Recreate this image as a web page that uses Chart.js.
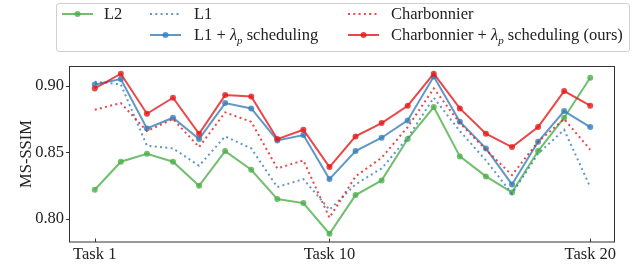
<!DOCTYPE html>
<html>
<head>
<meta charset="utf-8">
<script src="https://cdn.jsdelivr.net/npm/chart.js@4/dist/chart.umd.min.js"></script>
<style>
  html, body { margin: 0; padding: 0; background: #fff; }
  #wrap { position: relative; width: 635px; height: 266px; }
  #legend { position: absolute; left: 56px; top: 3px; width: 572px; height: 47px;
            border: 1px solid #d0d0d0; border-radius: 3px; background: rgba(255,255,255,0.8);
            font-family: 'Liberation Serif', serif; font-size: 16.5px; color: #222; }
  .item { position: absolute; height: 20px; }
  .h { position: absolute; top: 0; width: 31px; height: 20px; }
  .t { position: absolute; top: 0; line-height: 20px; white-space: nowrap; }
</style>
</head>
<body>
<div id="wrap">
  <canvas id="c" width="635" height="266"></canvas>
  <div id="legend"></div>
</div>
<script>
const tasks = [1,2,3,4,5,6,7,8,9,10,11,12,13,14,15,16,17,18,19,20];
const xTickValues = [1, 10, 20];
const xTickLabels = ['Task 1', 'Task 10', 'Task 20'];
const yTickValues = [0.80, 0.85, 0.90];
const yTickLabels = ['0.80', '0.85', '0.90'];

const l2 =            [0.822, 0.843, 0.849, 0.843, 0.825, 0.851, 0.837, 0.815, 0.812, 0.789, 0.818, 0.829, 0.860, 0.884, 0.847, 0.832, 0.820, 0.851, 0.876, 0.906];
const l1 =            [0.903, 0.901, 0.855, 0.853, 0.840, 0.862, 0.853, 0.824, 0.830, 0.807, 0.826, 0.838, 0.861, 0.891, 0.866, 0.844, 0.819, 0.849, 0.867, 0.824];
const l1Sched =       [0.901, 0.905, 0.868, 0.876, 0.860, 0.887, 0.883, 0.859, 0.863, 0.830, 0.851, 0.861, 0.874, 0.907, 0.873, 0.853, 0.826, 0.858, 0.881, 0.869];
const charb =         [0.882, 0.887, 0.866, 0.875, 0.854, 0.880, 0.873, 0.838, 0.844, 0.801, 0.832, 0.846, 0.869, 0.898, 0.872, 0.852, 0.833, 0.858, 0.875, 0.852];
const charbSched =    [0.898, 0.909, 0.879, 0.891, 0.864, 0.893, 0.892, 0.860, 0.867, 0.839, 0.862, 0.872, 0.885, 0.909, 0.883, 0.864, 0.854, 0.869, 0.896, 0.885];

const seriesNames = ['L2', 'L1', 'L1 + λ<sub>p</sub> scheduling', 'Charbonnier', 'Charbonnier + λ<sub>p</sub> scheduling (ours)'];
const GREEN = 'rgba(77,175,74,0.8)';
const BLUE = 'rgba(55,126,184,0.8)';
const RED = 'rgba(228,26,28,0.8)';

const specs = [
  { data: l2, color: GREEN, dotted: false },
  { data: l1, color: BLUE, dotted: true },
  { data: l1Sched, color: BLUE, dotted: false },
  { data: charb, color: RED, dotted: true },
  { data: charbSched, color: RED, dotted: false },
];

const datasets = specs.map((s, i) => ({
  label: seriesNames[i].replace(/<\/?sub>/g, ''),
  data: tasks.map((t, j) => ({ x: t, y: s.data[j] })),
  borderColor: s.color,
  backgroundColor: s.color,
  borderWidth: 2,
  borderDash: s.dotted ? [2, 3.3] : [],
  pointRadius: s.dotted ? 0 : 3,
  pointHoverRadius: 0,
  pointBorderWidth: 0,
  tension: 0,
  order: 4 - i,
}));

const framePlugin = {
  id: 'frame',
  afterDraw(chart) {
    const { ctx, chartArea: a } = chart;
    ctx.save();
    ctx.strokeStyle = '#333';
    ctx.lineWidth = 1;
    ctx.strokeRect(a.left - 0.5, a.top + 0.5, a.right - a.left, a.bottom - a.top - 0.5);
    ctx.beginPath();
    const xs = chart.scales.x, ys = chart.scales.y;
    xs.ticks.forEach(t => {
      const px = Math.round(xs.getPixelForValue(t.value)) + 0.5;
      ctx.moveTo(px, a.bottom); ctx.lineTo(px, a.bottom - 3.5);
    });
    ys.ticks.forEach(t => {
      const py = Math.round(ys.getPixelForValue(t.value)) + 0.5;
      ctx.moveTo(a.left, py); ctx.lineTo(a.left - 4, py);
    });
    ctx.stroke();
    ctx.restore();
  }
};

Chart.defaults.font.family = "'Liberation Serif', serif";
Chart.defaults.font.size = 16.5;
Chart.defaults.color = '#222';

new Chart(document.getElementById('c'), {
  type: 'line',
  data: { datasets },
  plugins: [framePlugin],
  options: {
    responsive: false,
    animation: false,
    layout: { padding: { left: 0, top: 66, right: 20, bottom: 0 } },
    plugins: { legend: { display: false }, tooltip: { enabled: false } },
    scales: {
      x: {
        type: 'linear', min: 0.05, max: 20.95,
        grid: { display: false, drawTicks: false },
        border: { display: false },
        afterBuildTicks: s => { s.ticks = xTickValues.map(v => ({ value: v })); },
        afterFit: s => { s.height = 24; },
        ticks: {
          padding: 3, maxRotation: 0, autoSkip: false,
          callback: v => xTickLabels[xTickValues.indexOf(v)]
        }
      },
      y: {
        min: 0.7828, max: 0.9148,
        grid: { display: false, drawTicks: false },
        border: { display: false },
        afterBuildTicks: s => { s.ticks = yTickValues.map(v => ({ value: v })); },
        afterFit: s => { s.width = 70; },
        ticks: {
          padding: 6,
          callback: v => yTickLabels[yTickValues.indexOf(v)]
        },
        title: { display: true, text: 'MS-SSIM', padding: { top: 17, bottom: 0 } }
      }
    }
  }
});

// legend (HTML)
const legendLayout = [
  { idx: 0, hx: 62, tx: 104, cy: 14 },
  { idx: 1, hx: 150, tx: 194, cy: 14 },
  { idx: 2, hx: 150, tx: 194, cy: 35 },
  { idx: 3, hx: 348, tx: 391, cy: 14 },
  { idx: 4, hx: 348, tx: 391, cy: 35 },
];
const leg = document.getElementById('legend');
legendLayout.forEach(L => {
  const s = specs[L.idx];
  const top = L.cy - 10 - 4;
  const h = document.createElement('canvas');
  h.width = 31; h.height = 20; h.className = 'h';
  h.style.left = (L.hx - 57) + 'px'; h.style.top = top + 'px';
  const g = h.getContext('2d');
  g.strokeStyle = s.color; g.fillStyle = s.color; g.lineWidth = 2;
  if (s.dotted) g.setLineDash([2, 3.3]);
  g.beginPath(); g.moveTo(0, 10); g.lineTo(31, 10); g.stroke();
  if (!s.dotted) { g.beginPath(); g.arc(15.5, 10, 3, 0, Math.PI * 2); g.fill(); }
  leg.appendChild(h);
  const t = document.createElement('div');
  t.className = 't';
  t.style.left = (L.tx - 57) + 'px'; t.style.top = top + 'px';
  t.innerHTML = seriesNames[L.idx].replace('λ', '<i>λ</i>').replace('<sub>p</sub>', '<sub style="font-size:11px;font-style:italic">p</sub>');
  leg.appendChild(t);
});
</script>
</body>
</html>
